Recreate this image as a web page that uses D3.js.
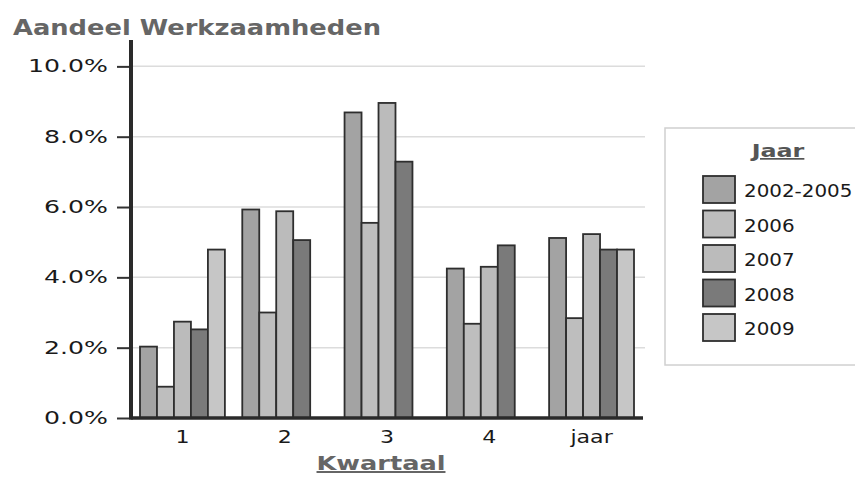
<!DOCTYPE html>
<html>
<head>
<meta charset="utf-8">
<script src="https://cdn.jsdelivr.net/npm/d3@7"></script>
<style>
  html, body { margin: 0; padding: 0; background: #fff; }
  text { font-family: "DejaVu Sans", Verdana, sans-serif; }
</style>
</head>
<body>
<svg id="chart"></svg>
<script>
// Aandeel Werkzaamheden per kwartaal, per jaar
const KWARTALEN = ['1', '2', '3', '4', 'jaar'];
const JAREN = ['2002-2005', '2006', '2007', '2008', '2009'];
const KLEUREN = ['#a3a3a3', '#bebebe', '#bbbbbb', '#7a7a7a', '#c6c6c6'];

// percentage per kwartaal (null = geen waarde)
const V_2002_2005 = [2.03, 5.93, 8.69, 4.25, 5.12];
const V_2006      = [0.89, 3.00, 5.55, 2.68, 2.84];
const V_2007      = [2.74, 5.88, 8.96, 4.30, 5.23];
const V_2008      = [2.52, 5.06, 7.29, 4.91, 4.79];
const V_2009      = [4.79, null, null, null, 4.79];
const Y_TICKS = [0, 2, 4, 6, 8, 10];

const SERIES = [V_2002_2005, V_2006, V_2007, V_2008, V_2009];

const W = 855, H = 477;
const svg = d3.select('#chart').attr('width', W).attr('height', H);

// stretch text horizontally (the source renders glyphs wide)
function stretch(sel, k) {
    sel.each(function() {
        const w = this.getComputedTextLength();
        d3.select(this).attr('textLength', w * k).attr('lengthAdjust', 'spacingAndGlyphs');
    });
}

// ── Scales ──────────────────────────────────────────────────────────────
const plot = { left: 131, right: 643, top: 40, bottom: 418 };
const y = d3.scaleLinear().domain([0, 10.75]).range([plot.bottom, plot.top]);
const x0 = d3.scaleBand().domain(KWARTALEN).range([plot.left, plot.right])
    .paddingInner(0.17).paddingOuter(0.088);
const x1 = d3.scaleBand().domain(JAREN).range([0, x0.bandwidth()]);

// ── Grid ────────────────────────────────────────────────────────────────
svg.append('g')
    .selectAll('line').data(Y_TICKS.filter(d => d > 0)).join('line')
    .attr('x1', plot.left).attr('x2', plot.right + 2)
    .attr('y1', d => y(d)).attr('y2', d => y(d))
    .attr('stroke', '#dcdcdc').attr('stroke-width', 1.5);

// ── Bars ────────────────────────────────────────────────────────────────
const rows = [];
KWARTALEN.forEach((k, i) => {
    JAREN.forEach((j, s) => {
        const v = SERIES[s][i];
        if (v != null) rows.push({ k, j, v, color: KLEUREN[s] });
    });
});

svg.append('g').selectAll('rect').data(rows).join('rect')
    .attr('x', d => x0(d.k) + x1(d.j))
    .attr('width', x1.bandwidth())
    .attr('y', d => y(d.v))
    .attr('height', d => y(0) - y(d.v))
    .attr('fill', d => d.color)
    .attr('stroke', '#2e2e2e').attr('stroke-width', 1.8);

// ── Axes ────────────────────────────────────────────────────────────────
const yAxis = svg.append('g').attr('transform', `translate(${plot.left},0)`)
    .call(d3.axisLeft(y).tickValues(Y_TICKS).tickSize(14).tickPadding(9)
        .tickFormat(d => d.toFixed(1) + '%'));
yAxis.select('.domain').remove();
yAxis.selectAll('.tick line').attr('stroke', '#333').attr('stroke-width', 2);
yAxis.selectAll('.tick text').attr('font-size', 17).attr('fill', '#1a1a1a')
    .attr('font-family', '"DejaVu Sans", sans-serif').call(stretch, 1.48);

svg.append('line')
    .attr('x1', plot.left).attr('x2', plot.left)
    .attr('y1', plot.top).attr('y2', plot.bottom + 1.5)
    .attr('stroke', '#2a2a2a').attr('stroke-width', 4);

const xAxis = svg.append('g').attr('transform', `translate(0,${plot.bottom})`)
    .call(d3.axisBottom(x0).tickSize(0).tickPadding(13));
xAxis.select('.domain').remove();
xAxis.selectAll('.tick text').attr('font-size', 17).attr('fill', '#1a1a1a')
    .attr('font-family', '"DejaVu Sans", sans-serif').call(stretch, 1.3);

svg.append('line')
    .attr('x1', plot.left).attr('x2', plot.right)
    .attr('y1', plot.bottom).attr('y2', plot.bottom)
    .attr('stroke', '#2a2a2a').attr('stroke-width', 3.5);

// ── Titles ──────────────────────────────────────────────────────────────
svg.append('text')
    .attr('x', 13).attr('y', 35)
    .attr('font-size', 22).attr('font-weight', 'bold').attr('fill', '#666')
    .text('Aandeel Werkzaamheden').call(stretch, 1.17);

svg.append('text')
    .attr('x', 381).attr('y', 470).attr('text-anchor', 'middle')
    .attr('font-size', 20).attr('font-weight', 'bold').attr('fill', '#666')
    .attr('text-decoration', 'underline')
    .text('Kwartaal').call(stretch, 1.28);

// ── Legend ──────────────────────────────────────────────────────────────
const leg = svg.append('g').attr('transform', 'translate(665,128)');
leg.append('rect').attr('width', 210).attr('height', 237)
    .attr('fill', '#fff').attr('stroke', '#d0d0d0').attr('stroke-width', 1.5);
leg.append('text').attr('x', 113).attr('y', 29).attr('text-anchor', 'middle')
    .attr('font-size', 17).attr('font-weight', 'bold').attr('fill', '#555')
    .attr('text-decoration', 'underline')
    .text('Jaar').call(stretch, 1.4);

const item = leg.selectAll('.item').data(JAREN).join('g')
    .attr('class', 'item')
    .attr('transform', (d, i) => `translate(38,${48 + i * 34.5})`);
item.append('rect').attr('width', 32).attr('height', 27)
    .attr('fill', (d, i) => KLEUREN[i])
    .attr('stroke', '#2e2e2e').attr('stroke-width', 1.8);
item.append('text').attr('x', 41).attr('y', 21)
    .attr('font-size', 17).attr('fill', '#1a1a1a')
    .text(d => d).call(stretch, 1.17);
</script>
</body>
</html>
